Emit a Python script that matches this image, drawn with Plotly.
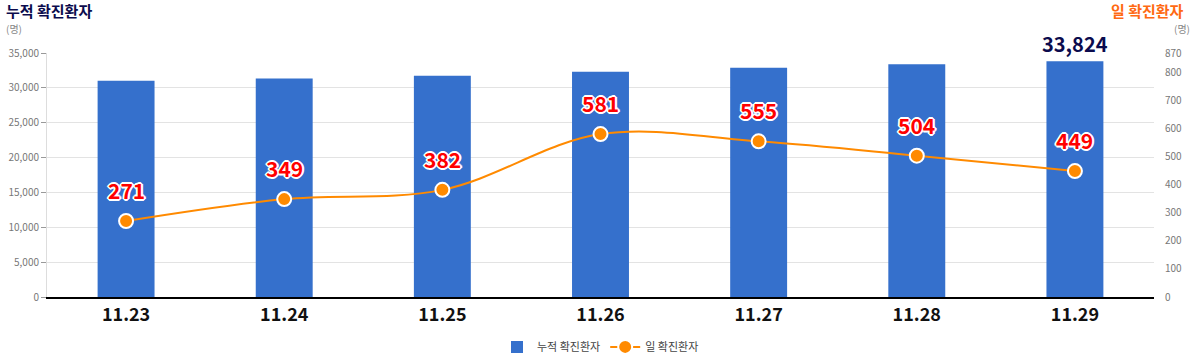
import plotly.graph_objects as go

dates = ["11.23", "11.24", "11.25", "11.26", "11.27", "11.28", "11.29"]
cumulative = [31004, 31353, 31735, 32316, 32871, 33375, 33824]
daily = [271, 349, 382, 581, 555, 504, 449]

left_ticks = [0, 5000, 10000, 15000, 20000, 25000, 30000, 35000]
right_ticks = [0, 100, 200, 300, 400, 500, 600, 700, 800, 870]

FONT = "Noto Sans CJK KR"
BAR_COLOR = "#3570cc"
LINE_COLOR = "#ff8a00"
outline = "2px 0 0 white, -2px 0 0 white, 0 2px 0 white, 0 -2px 0 white, 1px 1px 0 white, -1px -1px 0 white, 1px -1px 0 white, -1px 1px 0 white"

fig = go.Figure()
fig.add_trace(go.Bar(
    x=dates, y=cumulative, name="누적 확진환자",
    marker=dict(color=BAR_COLOR, line=dict(width=0)),
    width=0.36,
))
fig.add_trace(go.Scatter(
    x=dates, y=daily, name="일 확진환자", yaxis="y2",
    mode="lines+markers",
    line=dict(color=LINE_COLOR, width=2, shape="spline", smoothing=1.0),
    marker=dict(color=LINE_COLOR, size=14, line=dict(color="white", width=2)),
))

annotations = []
for i, v in enumerate(daily):
    annotations.append(dict(
        x=i, y=v, xref="x", yref="y2", text=str(v), showarrow=False,
        yshift=31, font=dict(family=FONT, size=21, color="#ff0000", weight="bold", shadow=outline),
    ))
last = len(cumulative) - 1
annotations.append(dict(
    x=last, y=cumulative[last], xref="x", yref="y", text=f"{cumulative[last]:,}", showarrow=False,
    yanchor="bottom", yshift=1, font=dict(family=FONT, size=20, color="#0b0b4d", weight="bold"),
))
annotations += [
    dict(xref="paper", yref="paper", x=0, y=1, xshift=-43, yshift=43, xanchor="left", yanchor="middle",
         text="<b>누적 확진환자</b>", showarrow=False, font=dict(family=FONT, size=15, color="#0b0b4d")),
    dict(xref="paper", yref="paper", x=0, y=1, xshift=-43, yshift=25, xanchor="left", yanchor="middle",
         text="(명)", showarrow=False, font=dict(family=FONT, size=10, color="#888888")),
    dict(xref="paper", yref="paper", x=1, y=1, xshift=32, yshift=43, xanchor="right", yanchor="middle",
         text="<b>일 확진환자</b>", showarrow=False, font=dict(family=FONT, size=15, color="#ff6a13")),
    dict(xref="paper", yref="paper", x=1, y=1, xshift=38, yshift=25, xanchor="right", yanchor="middle",
         text="(명)", showarrow=False, font=dict(family=FONT, size=10, color="#888888")),
]

fig.update_layout(
    width=1195, height=356,
    margin=dict(l=47, r=41, t=53, b=59, autoexpand=False),
    paper_bgcolor="white", plot_bgcolor="white",
    font=dict(family=FONT),
    showlegend=True,
    legend=dict(orientation="h", x=0.5, xanchor="center", y=-0.145, yanchor="top",
                font=dict(family=FONT, size=11, color="#444444"), itemwidth=30),
    xaxis=dict(
        type="category", showgrid=False, showline=True, linecolor="black", linewidth=2,
        tickfont=dict(family=FONT, size=18, color="#111111", weight="bold"),
        ticks="", ticklen=0, automargin=False, range=[-0.5, 6.5],
    ),
    yaxis=dict(
        range=[0, 35000], tickvals=left_ticks, ticktext=[f"{t:,}" for t in left_ticks],
        showgrid=True, gridcolor="#e3e3e3", gridwidth=1, zeroline=False,
        showline=True, linecolor="#dddddd", linewidth=1,
        ticks="outside", ticklen=5, tickcolor="#999999",
        tickfont=dict(family=FONT, size=10, color="#777777"), automargin=False,
    ),
    yaxis2=dict(
        range=[0, 870], tickvals=right_ticks, overlaying="y", side="right",
        showgrid=False, zeroline=False, showline=False,
        tickfont=dict(family=FONT, size=10, color="#777777"),
        ticklabelstandoff=10, automargin=False,
    ),
    annotations=annotations,
)

fig.write_html("out.html", config={"displayModeBar": False},
               post_script="document.body.style.margin='0';document.body.style.overflow='hidden';")
